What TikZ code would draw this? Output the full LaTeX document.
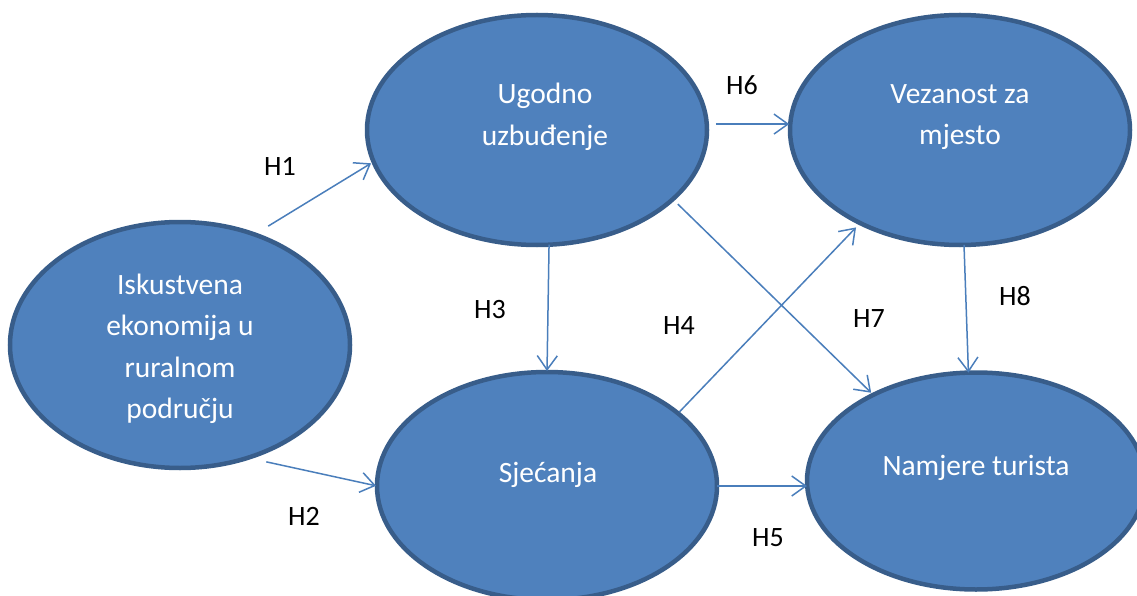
\documentclass[tikz,border=0pt]{standalone}
\usepackage{fontspec}
\setmainfont{Carlito}
\usetikzlibrary{arrows.meta,shapes.geometric}
\definecolor{fillblue}{HTML}{4F81BD}
\definecolor{edgeblue}{HTML}{385D8A}
\definecolor{arrowblue}{HTML}{4A7EBB}
\begin{document}
\begin{tikzpicture}[x=1pt,y=-1pt,
  oval/.style={ellipse, draw=edgeblue, fill=fillblue, line width=4.5pt, inner sep=0pt, outer sep=0pt},
  ovaltext/.style={text=white, align=center, font=\fontsize{29.5}{41.5}\selectfont, inner sep=0pt},
  hlabel/.style={font=\fontsize{28}{34}\selectfont, anchor=base, inner sep=0pt},
  conn/.style={draw=arrowblue, line width=1.5pt, -{Straight Barb[length=14pt,width=20pt]}}]
\useasboundingbox (0,0) rectangle (1137,596);
% ellipses
\node[oval, minimum width=340pt, minimum height=246pt] (isk) at (180,345) {};
\node[oval, minimum width=340pt, minimum height=230pt] (ugo) at (537,130) {};
\node[oval, minimum width=340pt, minimum height=230pt] (vez) at (960,130) {};
\node[oval, minimum width=340pt, minimum height=228pt] (sje) at (547,486) {};
\node[oval, minimum width=338pt, minimum height=217pt] (nam) at (976,481) {};
% connectors
\draw[conn, shorten <=16pt, shorten >=3pt] (isk.56) -- (ugo.191);
\draw[conn, shorten <=19pt, shorten >=1pt] (isk.301) -- (sje.180);
\draw[conn, shorten >=1pt] (ugo.276) -- (sje.90);
\draw[conn, shorten <=2pt, shorten >=6pt] (sje.29) -- (vez.223);
\draw[conn] (sje.east) -- (sje.east -| nam.west);
\draw[conn, shorten <=9pt, shorten >=1pt] (ugo.2) -- (vez.178);
\draw[conn, shorten <=7pt, shorten >=3pt] (ugo.333) -- (nam.140);
\draw[conn] (vez.272) -- (nam.94);
% texts
\node[ovaltext] (iskt) at (180,349) {Iskustvena\\ekonomija u\\ruralnom\\području};
\node[ovaltext] (ugot) at (545,117) {Ugodno\\uzbuđenje};
\node[ovaltext] (vezt) at (960,117) {Vezanost za\\mjesto};
\node[ovaltext, anchor=base] (sjet) at (548,482) {Sjećanja};
\node[ovaltext, anchor=base] (namt) at (976,475) {Namjere turista};
% labels
\node[hlabel] (h1) at (280,176) {H1};
\node[hlabel] (h2) at (304,525) {H2};
\node[hlabel] (h3) at (490,318) {H3};
\node[hlabel] (h4) at (679,334) {H4};
\node[hlabel] (h5) at (768,546) {H5};
\node[hlabel] (h6) at (742,95) {H6};
\node[hlabel] (h7) at (869,327) {H7};
\node[hlabel] (h8) at (1015,305) {H8};
\end{tikzpicture}
\end{document}
